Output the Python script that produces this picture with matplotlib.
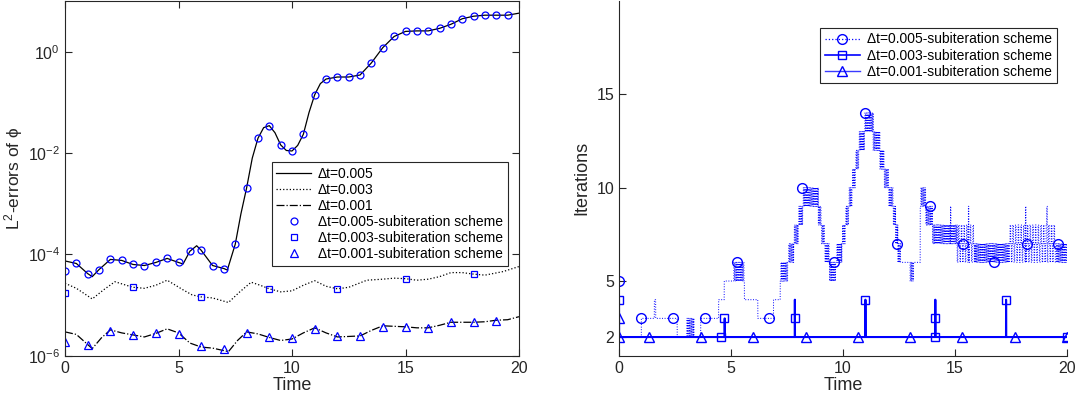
import numpy as np
import matplotlib
matplotlib.use("Agg")
import matplotlib.pyplot as plt

plt.rcParams['font.family'] = ['Liberation Sans', 'DejaVu Sans']
plt.rcParams['mathtext.fontset'] = 'custom'
plt.rcParams['mathtext.rm'] = 'Liberation Sans'
plt.rcParams['mathtext.it'] = 'DejaVu Sans:italic'
plt.rcParams['mathtext.default'] = 'regular'

# ---------------- left panel: L2 errors (log10 values) ----------------
t_line5 = [0, 0.5, 1.0, 1.2, 1.5, 2.0, 2.5, 3.0, 3.5, 4.0, 4.5, 5.0, 5.2, 5.5, 5.8, 6.0, 6.5,
           7.0, 7.15, 7.5, 7.75, 8.0, 8.25, 8.5, 8.75, 9.0, 9.25, 9.5, 9.75, 10.0, 10.25, 10.5,
           10.75, 11.0, 11.25, 11.5, 12.0, 12.5, 13.0, 13.5, 14.0, 14.5, 15.0, 15.5, 16.0, 16.5,
           17.0, 17.5, 18.0, 18.5, 19.0, 19.5, 20.0]
log_line5 = [-4.13, -4.18, -4.38, -4.44, -4.30, -4.10, -4.12, -4.20, -4.22, -4.16, -4.08, -4.16,
             -4.19, -3.94, -3.83, -3.92, -4.22, -4.28, -4.31, -3.80, -3.20, -2.69, -2.10, -1.71,
             -1.50, -1.46, -1.60, -1.84, -1.95, -1.96, -1.85, -1.63, -1.20, -0.85, -0.63, -0.54,
             -0.50, -0.50, -0.46, -0.22, 0.08, 0.30, 0.40, 0.41, 0.41, 0.46, 0.54, 0.65, 0.70,
             0.72, 0.72, 0.72, 0.76]

t_line3 = [0, 0.5, 1.2, 1.7, 2.2, 2.7, 3.0, 3.5, 4.0, 4.5, 5.2, 5.6, 6.0, 6.5, 7.2, 7.7, 8.2,
           8.6, 9.0, 9.5, 10.0, 10.5, 11.0, 11.5, 12.0, 12.5, 13.3, 14.0, 14.5, 15.0, 15.5, 16.0,
           16.5, 17.0, 17.5, 18.0, 18.5, 19.3, 20.0]
log_line3 = [-4.57, -4.67, -4.88, -4.70, -4.54, -4.61, -4.65, -4.67, -4.61, -4.51, -4.70, -4.80,
             -4.84, -4.86, -4.95, -4.74, -4.55, -4.61, -4.68, -4.74, -4.72, -4.61, -4.52, -4.63,
             -4.68, -4.65, -4.51, -4.49, -4.47, -4.48, -4.51, -4.49, -4.44, -4.36, -4.36, -4.39,
             -4.41, -4.34, -4.24]

t_line1 = [0, 0.5, 1.2, 1.6, 2.0, 2.5, 3.0, 3.5, 4.0, 4.5, 5.0, 5.5, 6.0, 6.5, 7.2, 7.6, 8.0,
           8.5, 9.0, 9.5, 10.0, 10.5, 11.0, 11.5, 12.0, 12.5, 13.0, 13.5, 14.0, 14.5, 15.0, 15.5,
           16.0, 16.5, 17.0, 17.5, 18.0, 18.5, 19.0, 19.5, 20.0]
log_line1 = [-5.53, -5.58, -5.86, -5.65, -5.49, -5.55, -5.59, -5.63, -5.56, -5.47, -5.55, -5.75,
             -5.83, -5.85, -5.92, -5.70, -5.53, -5.57, -5.64, -5.70, -5.67, -5.55, -5.45, -5.55,
             -5.63, -5.62, -5.61, -5.50, -5.41, -5.42, -5.43, -5.45, -5.45, -5.40, -5.34, -5.34,
             -5.34, -5.33, -5.30, -5.29, -5.23]

t_sub5 = np.arange(0, 20, 0.5)
log_sub5 = [-4.32, -4.18, -4.38, -4.30, -4.10, -4.12, -4.20, -4.22, -4.16, -4.08, -4.16, -3.94,
            -3.92, -4.22, -4.28, -3.80, -2.69, -1.71, -1.46, -1.84, -1.96, -1.63, -0.85, -0.54,
            -0.50, -0.50, -0.46, -0.22, 0.08, 0.30, 0.40, 0.41, 0.41, 0.46, 0.54, 0.65, 0.70,
            0.72, 0.72, 0.72]
t_sub3 = [0, 3, 6, 9, 12, 15, 18]
log_sub3 = [-4.76, -4.64, -4.84, -4.68, -4.68, -4.48, -4.38]
t_sub1 = np.arange(0, 20, 1.0)
log_sub1 = [-5.72, -5.78, -5.51, -5.59, -5.55, -5.57, -5.81, -5.86, -5.55, -5.64, -5.66, -5.47,
            -5.62, -5.61, -5.43, -5.43, -5.45, -5.34, -5.34, -5.31]

# ---------------- right panel: iterations ----------------
# dt=0.005: piecewise levels; where lo != hi the count flips between the levels
seg_start = [0.0, 0.01, 1.0, 1.58, 1.64, 2.6, 3.0, 3.35, 3.65, 4.45, 4.7, 5.1, 5.6, 6.2, 6.9,
             7.2, 7.55, 7.8, 8.0, 8.2, 8.9, 9.05, 9.2, 9.4, 9.7, 9.95, 10.1, 10.25, 10.4, 10.55,
             10.7, 10.95, 11.35, 11.65, 11.85, 12.05, 12.25, 12.35, 12.45, 12.6, 13.0, 13.15,
             13.45, 13.7, 14.0, 14.8, 14.82, 15.1, 15.6, 15.62, 15.9, 17.4, 18.15, 18.17, 19.1,
             19.12, 19.5]
seg_lo = [5, 2, 3, 4, 3, 2, 2, 2, 3, 4, 5, 5, 4, 3, 4, 5, 6, 7, 8, 9, 8, 7, 6, 5, 6, 7, 8, 9,
          10, 11, 12, 13, 12, 11, 10, 9, 8, 7, 6, 6, 5, 6, 9, 8, 7, 9, 7, 6, 9, 6, 6, 6, 9, 6,
          9, 6, 6]
seg_hi = [5, 2, 3, 4, 3, 2, 3, 2, 3, 4, 5, 6, 4, 3, 4, 6, 7, 8, 9, 10, 9, 8, 7, 6, 7, 8, 9, 10,
          11, 12, 13, 14, 13, 12, 11, 10, 9, 8, 7, 6, 6, 6, 10, 9, 8, 9, 8, 8, 9, 8, 7, 8, 9, 8,
          9, 8, 7]
flip_steps = 6

mark5_t = [0, 1.0, 2.42, 3.85, 5.29, 6.70, 8.17, 9.58, 11.0, 12.43, 13.87, 15.35, 16.75, 18.2, 19.6]
mark5_v = [5, 3, 3, 3, 6, 3, 10, 6, 14, 7, 9, 7, 6, 7, 7]

spike3_t = [0.0, 4.72, 7.85, 11.0, 14.12, 17.28]
spike3_v = [4, 3, 4, 4, 4, 4]
mark3_t = [0, 4.55, 4.70, 7.85, 11.0, 14.12, 14.12, 17.28, 20]
mark3_v = [4, 2, 3, 3, 4, 3, 2, 4, 2]

mark1_t = [0, 0, 1.33, 3.67, 6.0, 8.33, 10.67, 13.0, 15.33, 17.67, 20]
mark1_v = [3, 2, 2, 2, 2, 2, 2, 2, 2, 2, 2]

# build the time-step series
t5 = np.round(np.arange(0, 4001) * 0.005, 3)
it5 = np.zeros_like(t5)
bounds = seg_start + [20.001]
for i in range(len(seg_start)):
    m = (t5 >= bounds[i] - 1e-9) & (t5 < bounds[i + 1] - 1e-9)
    lo, hi = seg_lo[i], seg_hi[i]
    if lo == hi:
        it5[m] = lo
    else:
        cyc = np.array(list(range(lo, hi + 1)) + list(range(hi - 1, lo, -1)))
        k = np.arange(m.sum()) // flip_steps
        it5[m] = cyc[k % len(cyc)]

t3 = np.round(np.arange(0, 6667) * 0.003, 3)
it3 = np.full_like(t3, 2.0)
for ts, v in zip(spike3_t, spike3_v):
    it3[np.argmin(np.abs(t3 - ts))] = v

t1 = np.round(np.arange(0, 20001) * 0.001, 3)
it1 = np.full_like(t1, 2.0)
it1[0] = 3

blue = '#0000ff'
grey = '#262626'

fig = plt.figure(figsize=(10.86, 4.0), dpi=100)
ax1 = fig.add_axes([65 / 1086, 44.3 / 400, 454 / 1086, 354.7 / 400])
ax2 = fig.add_axes([619 / 1086, 44.3 / 400, 448 / 1086, 354.7 / 400])

ax1.plot(t_line5, 10.0 ** np.array(log_line5), '-', color='k', lw=0.9, label='\u0394t=0.005')
ax1.plot(t_line3, 10.0 ** np.array(log_line3), ':', color='k', lw=0.9, label='\u0394t=0.003')
ax1.plot(t_line1, 10.0 ** np.array(log_line1), '-.', color='k', lw=0.9, label='\u0394t=0.001')
ax1.plot(t_sub5, 10.0 ** np.array(log_sub5), 'o', mfc='none', mec=blue, ms=5, mew=0.9,
         label='\u0394t=0.005-subiteration scheme')
ax1.plot(t_sub3, 10.0 ** np.array(log_sub3), 's', mfc='none', mec=blue, ms=4, mew=0.9,
         label='\u0394t=0.003-subiteration scheme')
ax1.plot(t_sub1, 10.0 ** np.array(log_sub1), '^', mfc='none', mec=blue, ms=5.5, mew=0.9,
         label='\u0394t=0.001-subiteration scheme')
ax1.set_yscale('log')
ax1.set_xlim(0, 20)
ax1.set_ylim(1e-6, 10)
ax1.set_xticks([0, 5, 10, 15, 20])
ax1.set_yticks([1e-6, 1e-4, 1e-2, 1e0])
ax1.yaxis.set_minor_locator(matplotlib.ticker.NullLocator())
ax1.tick_params(direction='in', top=True, right=True, length=5, labelsize=11.5,
                colors=grey, labelcolor=grey)
ax1.set_xlabel('Time', fontsize=13, color=grey, labelpad=1)
ax1.set_ylabel('L$^2$-errors of $\\phi$', fontsize=12.5, color=grey, labelpad=2)
leg1 = ax1.legend(loc='upper left', bbox_to_anchor=(0.455, 0.547), fontsize=10,
                  handlelength=2.5, handletextpad=0.5, borderpad=0.35, labelspacing=0.15,
                  fancybox=False, framealpha=1, edgecolor=grey, borderaxespad=0)
leg1.get_frame().set_linewidth(0.8)

ax2.plot(t5, it5, ':', color=blue, lw=0.7)
ax2.plot(mark5_t, mark5_v, 'o', mfc='none', mec=blue, ms=7, mew=1.0)
ax2.plot(t3, it3, '-', color=blue, lw=1.5)
ax2.plot(mark3_t, mark3_v, 's', mfc='none', mec=blue, ms=5.5, mew=1.0)
ax2.plot(t1, it1, '-', color=blue, lw=1.0)
ax2.plot(mark1_t, mark1_v, '^', mfc='none', mec=blue, ms=7, mew=1.0)
ax2.set_xlim(0, 20)
ax2.set_ylim(1, 20)
ax2.set_xticks([0, 5, 10, 15, 20])
ax2.set_yticks([2, 5, 10, 15])
ax2.spines['top'].set_visible(False)
ax2.spines['right'].set_visible(False)
ax2.tick_params(direction='in', length=5, labelsize=11.5, colors=grey, labelcolor=grey)
ax2.set_xlabel('Time', fontsize=13, color=grey, labelpad=1)
ax2.set_ylabel('Iterations', fontsize=13, color=grey, labelpad=4)
h5 = matplotlib.lines.Line2D([], [], ls=':', color=blue, lw=0.9, marker='o', mfc='none', mec=blue, ms=7)
h3 = matplotlib.lines.Line2D([], [], ls='-', color=blue, lw=1.2, marker='s', mfc='none', mec=blue, ms=5.5)
h1 = matplotlib.lines.Line2D([], [], ls='-', color='#3a3aff', lw=1.0, marker='^', mfc='none', mec=blue, ms=7)
leg2 = ax2.legend([h5, h3, h1], ['\u0394t=0.005-subiteration scheme', '\u0394t=0.003-subiteration scheme',
                                 '\u0394t=0.001-subiteration scheme'],
                  loc='upper left', bbox_to_anchor=(0.449, 0.925), fontsize=10,
                  handlelength=2.5, handletextpad=0.5, borderpad=0.35, labelspacing=0.15,
                  fancybox=False, framealpha=1, edgecolor=grey, borderaxespad=0)
leg2.get_frame().set_linewidth(0.8)

for ax in (ax1, ax2):
    for s in ax.spines.values():
        s.set_color(grey)
        s.set_linewidth(0.8)

fig.savefig('out.png', dpi=100)
